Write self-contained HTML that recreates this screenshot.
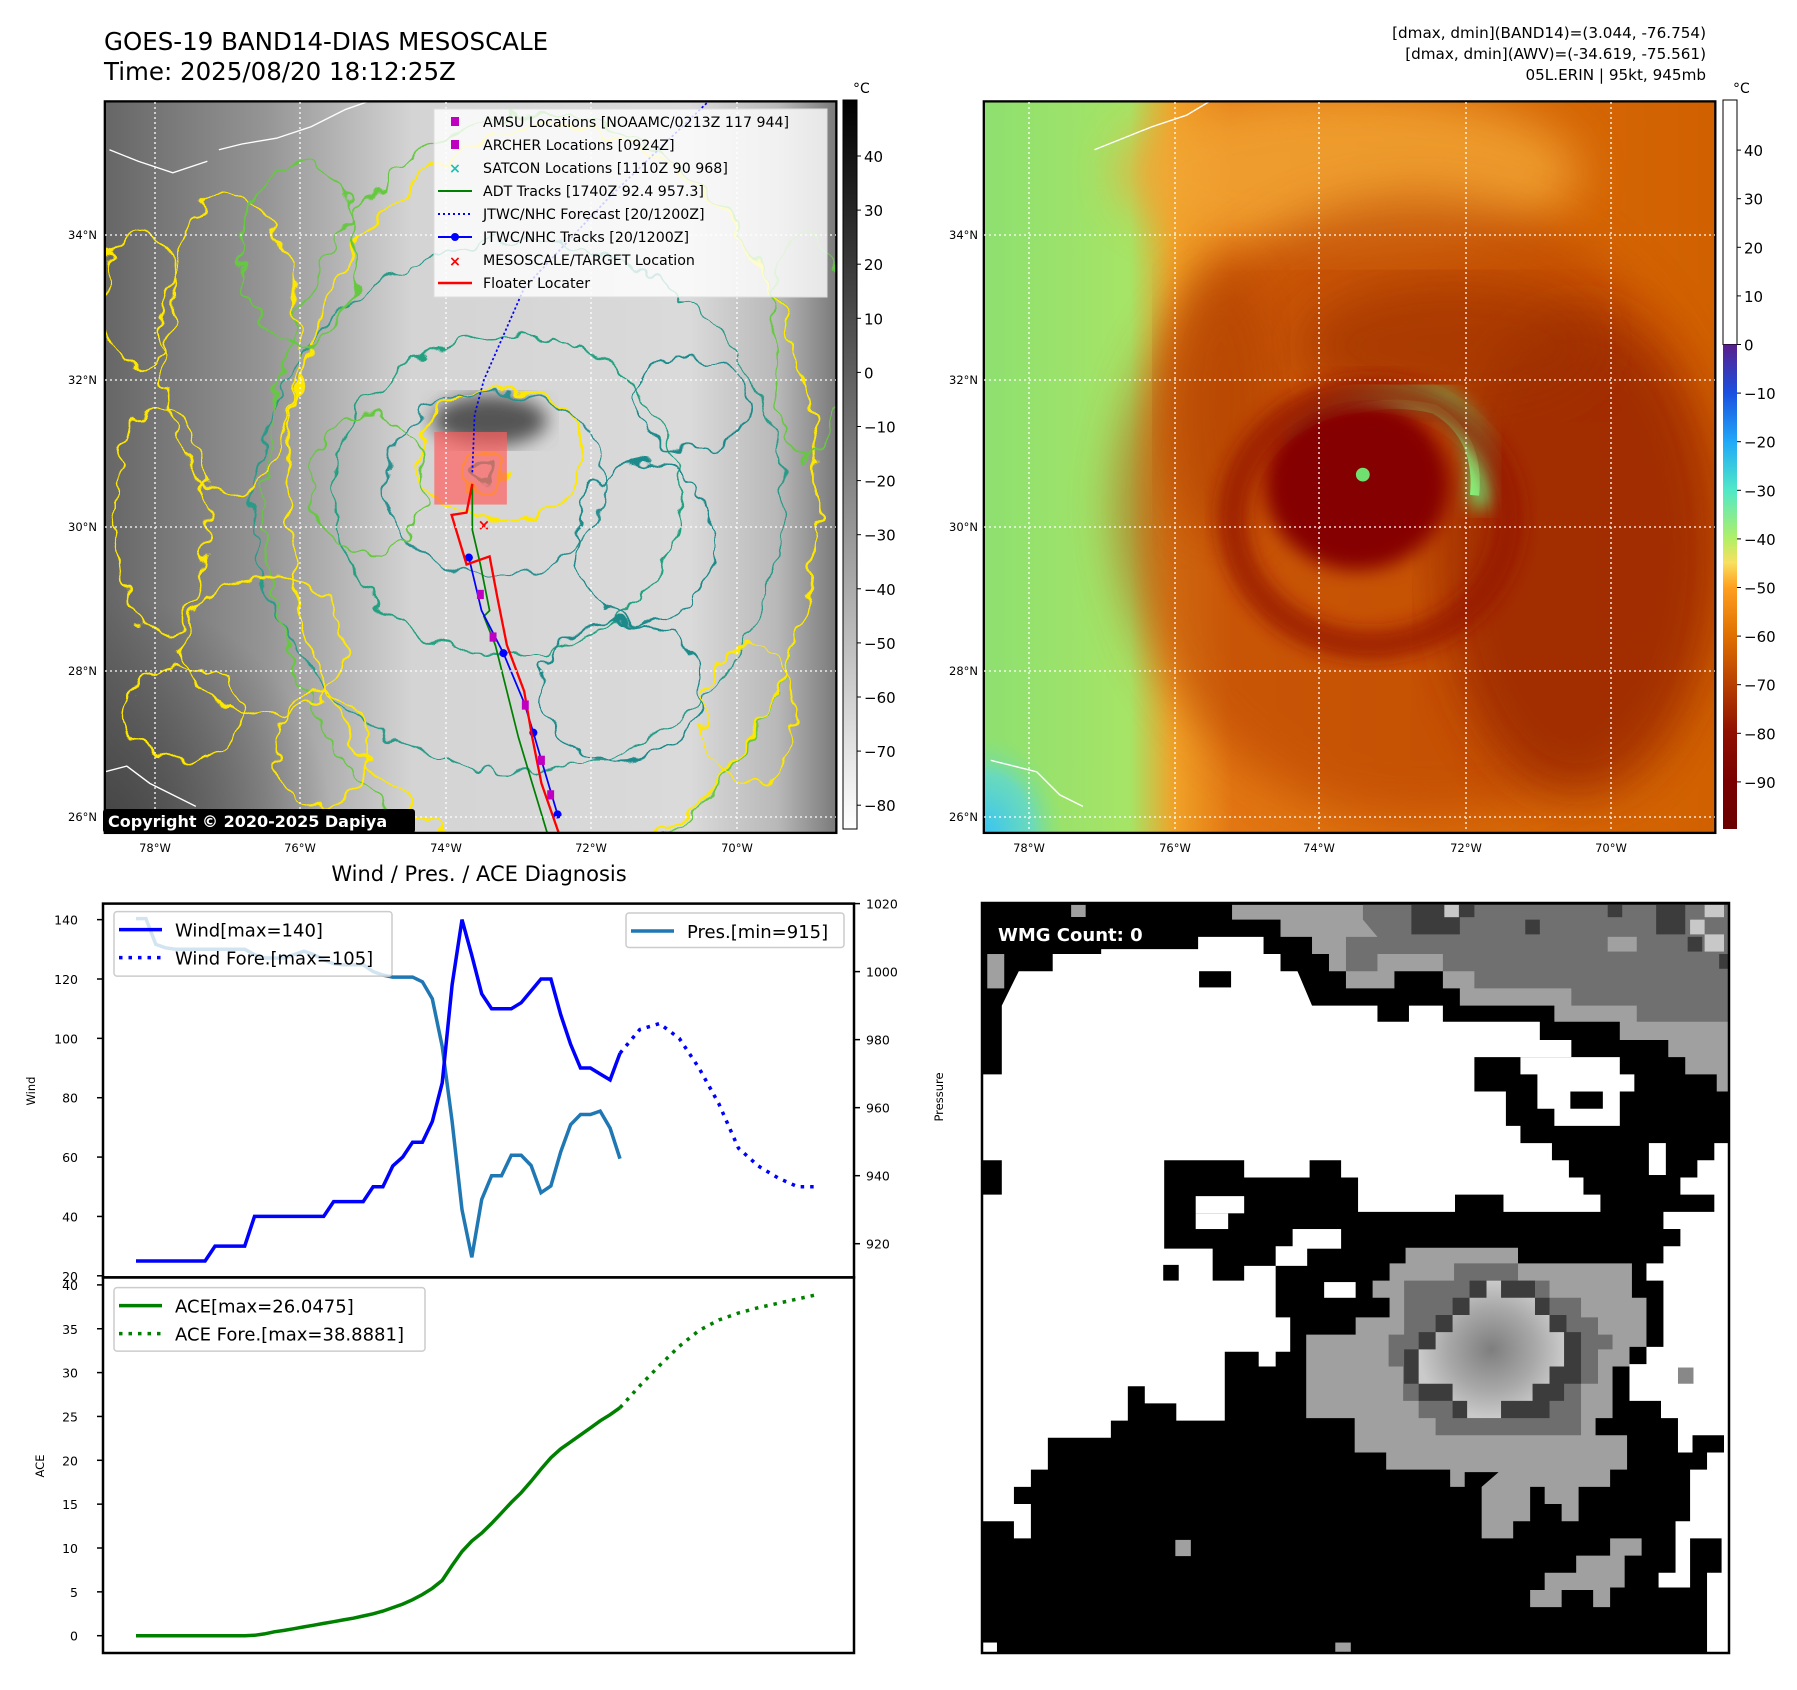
<!DOCTYPE html>
<html><head><meta charset="utf-8"><style>
html,body{margin:0;padding:0;background:#fff}
svg{display:block;font-family:"DejaVu Sans","Liberation Sans",sans-serif}
</style></head><body>
<svg id="fig" xmlns="http://www.w3.org/2000/svg" width="1797" height="1690" viewBox="0 0 1797 1690">
<defs>
<linearGradient id="gL" x1="0" x2="1" y1="0" y2="0">
<stop offset="0" stop-color="#666"/><stop offset="0.22" stop-color="#959595"/><stop offset="0.42" stop-color="#d4d4d4"/><stop offset="0.8" stop-color="#dadada"/><stop offset="0.92" stop-color="#b8b8b8"/><stop offset="1" stop-color="#7a7a7a"/></linearGradient>
<radialGradient id="gDark" cx="0" cy="1" r="0.6"><stop offset="0" stop-color="#404040" stop-opacity="0.9"/><stop offset="1" stop-color="#404040" stop-opacity="0"/></radialGradient>
<linearGradient id="gR" x1="0" x2="1" y1="0" y2="0">
<stop offset="0" stop-color="#8ee070"/><stop offset="0.2" stop-color="#a6e466"/><stop offset="0.26" stop-color="#f0a228"/><stop offset="0.34" stop-color="#e27612"/><stop offset="1" stop-color="#d06000"/></linearGradient>
<radialGradient id="gCy" cx="0" cy="1" r="0.35"><stop offset="0" stop-color="#38c4f4"/><stop offset="0.6" stop-color="#60d8d0" stop-opacity="0.8"/><stop offset="1" stop-color="#80e080" stop-opacity="0"/></radialGradient>
<linearGradient id="cbL" gradientUnits="userSpaceOnUse" x1="0" y1="100" x2="0" y2="829"><stop offset="0" stop-color="#000"/><stop offset="1" stop-color="#fff"/></linearGradient>
<linearGradient id="cbR" gradientUnits="userSpaceOnUse" x1="0" y1="344.5" x2="0" y2="829">
<stop offset="0" stop-color="#5a1e8c"/><stop offset="0.1" stop-color="#1a50e0"/><stop offset="0.2" stop-color="#20a8f8"/><stop offset="0.3" stop-color="#50e8c8"/><stop offset="0.4" stop-color="#b0f068"/><stop offset="0.45" stop-color="#f8e060"/><stop offset="0.5" stop-color="#ffa020"/><stop offset="0.6" stop-color="#e07000"/><stop offset="0.7" stop-color="#b84000"/><stop offset="0.8" stop-color="#901000"/><stop offset="0.9" stop-color="#7a0000"/><stop offset="1" stop-color="#6a0000"/></linearGradient>
<radialGradient id="gEye" cx="0.5" cy="0.5" r="0.5"><stop offset="0" stop-color="#7e7e7e"/><stop offset="0.6" stop-color="#a8a8a8"/><stop offset="1" stop-color="#cacaca"/></radialGradient>
<filter id="wig" x="-10%" y="-10%" width="120%" height="120%"><feTurbulence type="fractalNoise" baseFrequency="0.05" numOctaves="2" seed="3"/><feDisplacementMap in="SourceGraphic" scale="22" xChannelSelector="R" yChannelSelector="G"/></filter>
<filter id="blur8"><feGaussianBlur stdDeviation="8"/></filter>
<filter id="blur20"><feGaussianBlur stdDeviation="20"/></filter>
<clipPath id="clipL"><rect x="91" y="88" width="635" height="635"/></clipPath>
<clipPath id="clipR"><rect x="854" y="88" width="635" height="635"/></clipPath>
</defs>

<!-- titles -->
<text x="104" y="50" font-size="24.5">GOES-19 BAND14-DIAS MESOSCALE</text>
<text x="104" y="80" font-size="24.5">Time: 2025/08/20 18:12:25Z</text>
<g font-size="15.2" text-anchor="end">
<text x="1706" y="38">[dmax, dmin](BAND14)=(3.044, -76.754)</text>
<text x="1706" y="59">[dmax, dmin](AWV)=(-34.619, -75.561)</text>
<text x="1706" y="80">05L.ERIN | 95kt, 945mb</text>
</g>

<!-- map imagery in display coordinates -->
<g transform="scale(1.152)">
<g clip-path="url(#clipL)">
<rect x="91" y="88" width="635" height="635" fill="url(#gL)"/>
<rect x="91" y="380" width="330" height="343" fill="url(#gDark)"/>
<ellipse cx="425" cy="365" rx="50" ry="22" fill="#555" filter="url(#blur8)"/>
<g filter="url(#wig)" fill="none" stroke-width="1.6">
<ellipse cx="435" cy="395" rx="72" ry="58" stroke="#ffe800" stroke-width="2.2"/>
<ellipse cx="430" cy="420" rx="95" ry="80" stroke="#2a8f8f"/>
<ellipse cx="440" cy="430" rx="150" ry="140" stroke="#22a080"/>
<ellipse cx="450" cy="440" rx="230" ry="230" stroke="#2a9a88"/>
<ellipse cx="470" cy="430" rx="240" ry="330" stroke="#66c840"/>
<ellipse cx="480" cy="430" rx="230" ry="320" stroke="#ffe800" stroke-width="2"/>
<ellipse cx="420" cy="410" rx="18" ry="15" stroke="#ffe800" stroke-width="3"/>
<ellipse cx="420" cy="410" rx="9" ry="8" stroke="#22a080" stroke-width="3"/>
<ellipse cx="200" cy="300" rx="60" ry="130" stroke="#ffe800"/>
<ellipse cx="140" cy="450" rx="40" ry="100" stroke="#ffe800"/>
<ellipse cx="230" cy="560" rx="70" ry="60" stroke="#ffe800"/>
<ellipse cx="160" cy="620" rx="50" ry="40" stroke="#ffe800"/>
<ellipse cx="280" cy="650" rx="40" ry="50" stroke="#ffe800"/>
<ellipse cx="260" cy="220" rx="50" ry="80" stroke="#66c840"/>
<ellipse cx="120" cy="260" rx="30" ry="60" stroke="#ffe800"/>
<ellipse cx="320" cy="420" rx="50" ry="60" stroke="#66c840"/>
<ellipse cx="560" cy="470" rx="60" ry="70" stroke="#1f8a8a"/>
<ellipse cx="600" cy="350" rx="50" ry="40" stroke="#1f8a8a"/>
<ellipse cx="540" cy="600" rx="70" ry="60" stroke="#1f8a8a"/>
<ellipse cx="650" cy="620" rx="40" ry="60" stroke="#ffe800"/>
<ellipse cx="700" cy="300" rx="30" ry="100" stroke="#66c840"/>
</g>
<g stroke="#fff" fill="none" stroke-width="1.2">
<polyline points="190,130 210,125 240,120 270,110 300,95 320,88"/>
<polyline points="95,130 120,140 150,150 180,140"/>
<polyline points="91,670 110,665 130,680 150,690 170,700"/>
</g>
<rect x="377" y="375" width="63" height="63" fill="#ff6060" fill-opacity="0.7"/>
<polyline points="410,410 412,360 420,330 455,250 530,170 615,88" fill="none" stroke="#0000ff" stroke-width="1.5" stroke-dasharray="2 2"/>
<polyline points="410,420 410,460 417,490 425,530 420,535 430,560 440,600 450,640 462,680 475,723" fill="none" stroke="#008000" stroke-width="1.5"/>
<polyline points="407,484 418,530 437,567 455,610 463,636 470,660 484,707" fill="none" stroke="#0000ff" stroke-width="1.5"/>
<g fill="#0000ff"><circle cx="407" cy="484" r="3.5"/><circle cx="437" cy="567" r="3.5"/><circle cx="463" cy="636" r="3.5"/><circle cx="484" cy="707" r="3.5"/></g>
<polyline points="410,420 405,445 392,447 405,490 425,483 432,520 440,560 455,600 462,640 470,680 485,723" fill="none" stroke="#ff0000" stroke-width="2"/>
<g fill="#c000c0"><rect x="414" y="512" width="6" height="8"/><rect x="425" y="549" width="6" height="8"/><rect x="453" y="608" width="6" height="8"/><rect x="467" y="656" width="6" height="8"/><rect x="475" y="686" width="6" height="8"/></g>
<text x="420" y="460" font-size="13" fill="#f00" text-anchor="middle" font-weight="bold">×</text>
</g>
<rect x="91" y="88" width="635" height="635" fill="none" stroke="#000" stroke-width="2"/>

<g clip-path="url(#clipR)">
<rect x="854" y="88" width="635" height="635" fill="url(#gR)"/>
<ellipse cx="1170" cy="150" rx="200" ry="70" fill="#f2a636" filter="url(#blur20)" opacity="0.8"/>
<ellipse cx="1230" cy="440" rx="260" ry="270" fill="#b84000" filter="url(#blur20)" opacity="0.6"/>
<ellipse cx="1370" cy="480" rx="120" ry="210" fill="#9a2800" filter="url(#blur20)" opacity="0.8"/>
<ellipse cx="1260" cy="300" rx="130" ry="55" fill="#a03000" filter="url(#blur20)" opacity="0.7"/>
<ellipse cx="1060" cy="350" rx="50" ry="120" fill="#b04000" filter="url(#blur20)" opacity="0.6"/>
<path d="M1125,385 Q1180,330 1250,348 Q1295,375 1285,440" fill="none" stroke="#70e070" stroke-width="20" filter="url(#blur8)"/>
<path d="M1130,380 Q1180,340 1245,355 Q1285,378 1280,430" fill="none" stroke="#88ee78" stroke-width="8"/>
<ellipse cx="1178" cy="420" rx="80" ry="75" fill="#850600" filter="url(#blur8)"/>
<ellipse cx="1190" cy="450" rx="120" ry="110" fill="none" stroke="#961400" stroke-width="25" filter="url(#blur8)" opacity="0.8"/>
<circle cx="1183" cy="412" r="6" fill="#70e070"/>
<rect x="854" y="480" width="200" height="243" fill="url(#gCy)"/>
<g stroke="#fff" fill="none" stroke-width="1.2">
<polyline points="950,130 975,120 1000,110 1030,100 1050,88"/>
<polyline points="860,660 880,665 900,670 920,690 940,700"/>
</g>
</g>
<rect x="854" y="88" width="635" height="635" fill="none" stroke="#000" stroke-width="2"/>
</g>

<!-- gridlines -->
<g stroke="#fff" stroke-width="1.3" stroke-dasharray="2 3">
<line x1="105" x2="836" y1="235" y2="235"/><line x1="105" x2="836" y1="380" y2="380"/><line x1="105" x2="836" y1="527" y2="527"/><line x1="105" x2="836" y1="671" y2="671"/><line x1="105" x2="836" y1="817" y2="817"/>
<line y1="102" y2="832" x1="155" x2="155"/><line y1="102" y2="832" x1="300" x2="300"/><line y1="102" y2="832" x1="446" x2="446"/><line y1="102" y2="832" x1="591" x2="591"/><line y1="102" y2="832" x1="737" x2="737"/>
<line x1="984" x2="1715" y1="235" y2="235"/><line x1="984" x2="1715" y1="380" y2="380"/><line x1="984" x2="1715" y1="527" y2="527"/><line x1="984" x2="1715" y1="671" y2="671"/><line x1="984" x2="1715" y1="817" y2="817"/>
<line y1="102" y2="832" x1="1029" x2="1029"/><line y1="102" y2="832" x1="1175" x2="1175"/><line y1="102" y2="832" x1="1319" x2="1319"/><line y1="102" y2="832" x1="1466" x2="1466"/><line y1="102" y2="832" x1="1611" x2="1611"/>
</g>

<!-- legend on left map -->
<g>
<rect x="434" y="109" width="393" height="188" fill="#fff" fill-opacity="0.8" stroke="#ddd"/>
<g font-size="14.2">
<rect x="451" y="117" width="8" height="9" fill="#c000c0"/><text x="483" y="127">AMSU Locations [NOAAMC/0213Z 117 944]</text>
<rect x="451" y="140" width="8" height="9" fill="#c000c0"/><text x="483" y="150">ARCHER Locations [0924Z]</text>
<text x="455" y="173" fill="#20c0b0" text-anchor="middle" font-weight="bold">×</text><text x="483" y="173">SATCON Locations [1110Z 90 968]</text>
<line x1="438" x2="472" y1="191" y2="191" stroke="#008000" stroke-width="2"/><text x="483" y="196">ADT Tracks [1740Z 92.4 957.3]</text>
<line x1="438" x2="472" y1="214" y2="214" stroke="#0000ff" stroke-width="2" stroke-dasharray="2 3"/><text x="483" y="219">JTWC/NHC Forecast [20/1200Z]</text>
<line x1="438" x2="472" y1="237" y2="237" stroke="#0000ff" stroke-width="2"/><circle cx="455" cy="237" r="4" fill="#00f"/><text x="483" y="242">JTWC/NHC Tracks [20/1200Z]</text>
<text x="455" y="266" fill="#f00" text-anchor="middle" font-weight="bold">×</text><text x="483" y="265">MESOSCALE/TARGET Location</text>
<line x1="438" x2="472" y1="283" y2="283" stroke="#f00" stroke-width="2.5"/><text x="483" y="288">Floater Locater</text>
</g></g>
<g><rect x="103" y="809" width="312" height="24" fill="#000" rx="3"/><text x="108" y="827" fill="#fff" font-size="16" font-weight="bold">Copyright © 2020-2025 Dapiya</text></g>

<!-- map axis labels -->
<g font-size="11.5" text-anchor="end">
<text x="97" y="239">34°N</text><text x="97" y="384">32°N</text><text x="97" y="531">30°N</text><text x="97" y="675">28°N</text><text x="97" y="821">26°N</text>
<text x="978" y="239">34°N</text><text x="978" y="384">32°N</text><text x="978" y="531">30°N</text><text x="978" y="675">28°N</text><text x="978" y="821">26°N</text>
</g>
<g font-size="11.5" text-anchor="middle">
<text x="155" y="852">78°W</text><text x="300" y="852">76°W</text><text x="446" y="852">74°W</text><text x="591" y="852">72°W</text><text x="737" y="852">70°W</text>
<text x="1029" y="852">78°W</text><text x="1175" y="852">76°W</text><text x="1319" y="852">74°W</text><text x="1466" y="852">72°W</text><text x="1611" y="852">70°W</text>
</g>

<!-- colorbars -->
<g>
<rect x="843" y="100" width="14" height="729" fill="url(#cbL)" stroke="#000" stroke-width="1"/>
<text x="853" y="93" font-size="14">°C</text>
<g font-size="15" id="cbLticks"></g>
</g>
<g>
<rect x="1723" y="100" width="14" height="244.5" fill="#fff" stroke="#000" stroke-width="1"/>
<rect x="1723" y="344.5" width="14" height="484.5" fill="url(#cbR)"/>
<text x="1733" y="93" font-size="14">°C</text>
<g font-size="15" id="cbRticks"></g>
</g>

<!-- chart -->
<text x="479" y="881" font-size="21" text-anchor="middle">Wind / Pres. / ACE Diagnosis</text>
<g id="chart"></g>

<!-- WMG map -->
<g>
<g transform="translate(980,900) scale(0.4847,0.4911)">
<rect x="3" y="5" width="1542" height="1528" fill="#000"/>
<polygon fill="#fff" points="45,215 80,145 150,145 150,110 250,110 250,100 450,100 450,75 585,75 585,110 620,110 620,145 655,145 685,215 820,215 820,248 885,248 885,215 955,215 955,248 1155,248 1155,285 1220,285 1220,320 1020,320 1020,390 1085,390 1085,460 1115,460 1115,495 1180,495 1180,530 1215,530 1215,565 1245,565 1245,600 1280,600 1280,635 1080,635 1080,600 980,600 980,635 780,635 780,565 745,565 745,530 680,530 680,565 545,565 545,530 380,530 380,710 480,710 480,775 545,775 545,745 610,745 610,850 640,850 640,920 610,920 610,950 575,950 575,920 505,920 505,1060 405,1060 405,1025 340,1025 340,990 305,990 305,1060 270,1060 270,1095 140,1095 140,1160 105,1160 105,1195 70,1195 70,1230 105,1230 105,1300 70,1300 70,1265 5,1265 5,600 45,600 45,530 5,530 5,355 45,355 45,285"/>
<polygon fill="#fff" points="1115,320 1320,320 1320,355 1350,355 1350,390 1320,390 1320,460 1185,460 1185,425 1150,425 1150,355 1115,355"/>
<rect x="1218" y="390" width="67" height="35" fill="#000"/>
<rect x="452" y="145" width="66" height="33" fill="#000"/>
<rect x="445" y="603" width="100" height="35" fill="#fff"/><rect x="445" y="638" width="67" height="32" fill="#fff"/>
<rect x="645" y="670" width="100" height="40" fill="#fff"/><rect x="610" y="705" width="65" height="40" fill="#fff"/>
<rect x="710" y="778" width="65" height="32" fill="#fff"/><rect x="378" y="743" width="32" height="32" fill="#000"/>
<polygon fill="#fff" points="1545,495 1515,495 1515,530 1480,530 1480,565 1445,565 1445,600 1515,600 1515,635 1410,635 1410,670 1445,670 1445,705 1410,705 1410,740 1375,740 1375,775 1410,775 1410,910 1375,910 1375,945 1340,945 1340,1020 1405,1020 1405,1055 1440,1055 1440,1125 1470,1125 1470,1090 1535,1090 1535,1125 1500,1125 1500,1160 1465,1160 1465,1265 1435,1265 1435,1370 1400,1370 1400,1400 1465,1400 1465,1300 1530,1300 1530,1370 1500,1370 1500,1533 1545,1533"/>
<rect x="1380" y="495" width="35" height="65" fill="#fff"/>
<polygon fill="#a0a0a0" points="520,10 1545,10 1545,390 1520,390 1520,355 1455,355 1455,320 1420,320 1420,285 1320,285 1320,248 1185,248 1185,215 990,215 990,180 955,180 955,145 855,145 855,180 755,180 755,145 720,145 720,110 685,110 685,75 620,75 620,40 520,40"/>
<polygon fill="#707070" points="790,10 1545,10 1545,248 1355,248 1355,215 1220,215 1220,180 1020,180 1020,145 955,145 955,110 820,110 820,145 755,145 755,75 820,75 790,40"/>
<g fill="#3c3c3c"><rect x="890" y="10" width="100" height="60"/><rect x="990" y="10" width="30" height="25"/><rect x="1125" y="40" width="30" height="30"/><rect x="1295" y="10" width="30" height="25"/><rect x="1395" y="10" width="60" height="60"/><rect x="1460" y="75" width="30" height="30"/><rect x="1525" y="110" width="20" height="30"/></g>
<g fill="#c8c8c8"><rect x="958" y="10" width="30" height="25"/><rect x="1495" y="10" width="40" height="25"/><rect x="1495" y="70" width="40" height="35"/><rect x="1465" y="40" width="30" height="30"/></g>
<rect x="1295" y="75" width="60" height="30" fill="#a0a0a0"/>
<rect x="15" y="110" width="35" height="70" fill="#a0a0a0"/><rect x="188" y="10" width="30" height="25" fill="#a0a0a0"/>
<polygon fill="#a0a0a0" points="878,708 1110,708 1110,740 1345,740 1345,810 1375,810 1375,910 1340,910 1340,950 1305,950 1305,1055 1270,1055 1270,1090 1335,1090 1335,1160 1300,1160 1300,1195 1235,1195 1235,1265 1200,1265 1200,1230 1165,1230 1165,1195 1135,1195 1135,1265 1100,1265 1100,1300 1035,1300 1035,1195 1070,1165 1000,1165 1000,1195 970,1195 970,1160 838,1160 838,1125 773,1125 773,1055 673,1055 673,885 775,885 775,850 845,850 845,810 810,810 810,775 845,775 845,740 878,740"/>
<polygon fill="#6e6e6e" points="978,740 1110,740 1110,775 1175,775 1175,810 1240,810 1240,850 1275,850 1275,885 1305,885 1305,915 1275,915 1275,985 1240,985 1240,1090 940,1090 940,1055 905,1055 905,1020 873,1020 873,950 843,950 843,885 875,885 875,775 978,775"/>
<polygon fill="#3c3c3c" points="1010,775 1145,775 1145,810 1175,810 1175,845 1210,845 1210,880 1240,880 1240,985 1205,985 1205,1020 1175,1020 1175,1055 975,1055 975,1020 905,1020 905,985 875,985 875,915 905,915 905,880 940,880 940,845 975,845 975,810 1010,810"/>
<polygon fill="url(#gEye)" points="1045,775 1075,775 1075,810 1145,810 1145,845 1175,845 1175,880 1205,880 1205,950 1175,950 1175,985 1140,985 1140,1020 1075,1020 1075,1055 1005,1055 1005,1020 975,1020 975,985 905,985 905,915 940,915 940,880 975,880 975,845 1010,845 1010,810 1045,810"/>
<polygon fill="#a0a0a0" points="1300,1300 1365,1300 1365,1335 1330,1335 1330,1400 1300,1400 1300,1440 1265,1440 1265,1405 1200,1405 1200,1440 1135,1440 1135,1405 1165,1405 1165,1370 1230,1370 1230,1335 1300,1335"/>
<rect x="403" y="1303" width="32" height="33" fill="#a0a0a0"/><rect x="733" y="1512" width="32" height="20" fill="#a0a0a0"/><rect x="1440" y="952" width="32" height="33" fill="#888"/><rect x="5" y="1512" width="30" height="20" fill="#fff"/>
</g>
<rect x="982" y="903" width="747" height="750" fill="none" stroke="#000" stroke-width="2.5"/>
<rect x="991" y="917" width="181" height="32" rx="5" fill="#000"/>
<text x="998" y="941" fill="#fff" font-size="18" font-weight="bold">WMG Count: 0</text>
</g>
</svg>
<script>
// ---- chart data ----
const obsIdx = [0,1,2,3,4,5,6,7,8,9,10,11,12,13,14,15,16,17,18,19,20,21,22,23,24,25,26,27,28,29,30,31,32,33,34,35,36,37,38,39,40,41,42,43,44,45,46,47,48,49];
const windObs = [25,25,25,25,25,25,25,25,30,30,30,30,40,40,40,40,40,40,40,40,45,45,45,45,50,50,57,60,65,65,72,85,118,140,128,115,110,110,110,112,116,120,120,108,98,90,90,88,86,95];
const presObs = [1015.6,1015.6,1008,1007,1006.6,1006.6,1006.6,1006.6,1006.6,1006.6,1006.6,1006.6,1005,1004,1004,1004,1005,1006,1005,1003.5,1002.3,1002,1002,1002,1000,999,998.4,998.4,998.4,997,992,978,956,930,916,933,940,940,946,946,943,935,937,947,955,958,958,959,954,945];
const aceObs = [0,0,0,0,0,0,0,0,0,0,0,0,0.05,0.2,0.45,0.6,0.8,1.0,1.2,1.4,1.6,1.8,2.0,2.25,2.5,2.8,3.2,3.6,4.1,4.7,5.4,6.3,8.0,9.6,10.8,11.7,12.8,14.0,15.2,16.3,17.6,19.0,20.3,21.3,22.1,22.9,23.7,24.5,25.2,26.0];
const fcIdx = [49,51,53,55,57,59,61,63,65,67,69];
const windFc = [95,103,105,100,90,78,63,57,53,50,50];
const aceFc = [26.0,28.5,30.8,33.0,34.8,36.0,36.8,37.4,37.9,38.4,38.9];
const windTicks = [20,40,60,80,100,120,140];
const presTicks = [920,940,960,980,1000,1020];
const aceTicks = [0,5,10,15,20,25,30,35,40];
const cbLeftTicks = [40,30,20,10,0,-10,-20,-30,-40,-50,-60,-70,-80];
const cbRightTicks = [40,30,20,10,0,-10,-20,-30,-40,-50,-60,-70,-80,-90];

const NS = "http://www.w3.org/2000/svg";
const L = 103, R = 854, T = 903.6, MID = 1277.4, B = 1653;
const xOf = i => 136 + i * (620 - 136) / 49;
const yW = w => 1275.8 - (w - 20) * 2.968;
const yP = p => 903.6 + (1020 - p) * 3.401;
const yA = a => 1635.7 - a * 8.77;
const cbLy = v => 156 + (40 - v) * 5.41;
const cbRy = v => 344.5 - v * 4.86;

function mk(tag, attrs, parent) {
  const e = document.createElementNS(NS, tag);
  for (const k in attrs) e.setAttribute(k, attrs[k]);
  parent.appendChild(e);
  return e;
}
const chart = document.getElementById("chart");
function line(xs, ys, attrs, name) {
  const pts = xs.map((x, k) => x.toFixed(1) + "," + ys[k].toFixed(1)).join(" ");
  const e = mk("polyline", Object.assign({points: pts, fill: "none"}, attrs), chart);
  
  
  return e;
}
const f1 = mk("rect", {x: L, y: T, width: R - L, height: MID - T, fill: "none", stroke: "#000", "stroke-width": 2.5}, chart);


const f2 = mk("rect", {x: L, y: MID, width: R - L, height: B - MID, fill: "none", stroke: "#000", "stroke-width": 2.5}, chart);



windTicks.forEach(v => {
  const y = yW(v);
  mk("line", {x1: L - 6, x2: L, y1: y, y2: y, stroke: "#000", "stroke-width": 1.5}, chart);
  const t = mk("text", {x: 78, y: y + 5, "font-size": 12.5, "text-anchor": "end"}, chart);
  t.textContent = v;
  
  
});
presTicks.forEach(v => {
  const y = yP(v);
  mk("line", {x1: R, x2: R + 6, y1: y, y2: y, stroke: "#000", "stroke-width": 1.5}, chart);
  const t = mk("text", {x: 866, y: y + 5, "font-size": 12.5}, chart);
  t.textContent = v;
  
  
});
aceTicks.forEach(v => {
  const y = yA(v);
  mk("line", {x1: L - 6, x2: L, y1: y, y2: y, stroke: "#000", "stroke-width": 1.5}, chart);
  const t = mk("text", {x: 78, y: y + 5, "font-size": 12.5, "text-anchor": "end"}, chart);
  t.textContent = v;
  
  
});
let at = mk("text", {x: 0, y: 0, "font-size": 11.5, "text-anchor": "middle", transform: "translate(35,1091) rotate(-90)"}, chart);
at.textContent = "Wind";


at = mk("text", {x: 0, y: 0, "font-size": 11.5, "text-anchor": "middle", transform: "translate(44,1466) rotate(-90)"}, chart);
at.textContent = "ACE";


at = mk("text", {x: 0, y: 0, "font-size": 11.5, "text-anchor": "middle", transform: "translate(943,1097) rotate(-90)"}, chart);
at.textContent = "Pressure";



line(obsIdx.map(xOf), presObs.map(yP), {stroke: "#1f77b4", "stroke-width": 3.5}, "pressure-line");
line(obsIdx.map(xOf), windObs.map(yW), {stroke: "#0000ff", "stroke-width": 3.5}, "wind-line");
line(fcIdx.map(xOf), windFc.map(yW), {stroke: "#0000ff", "stroke-width": 3.5, "stroke-dasharray": "3.5 6"}, "wind-forecast-line");
line(obsIdx.map(xOf), aceObs.map(yA), {stroke: "#008000", "stroke-width": 3.5}, "ace-line");
line(fcIdx.map(xOf), aceFc.map(yA), {stroke: "#008000", "stroke-width": 3.5, "stroke-dasharray": "3.5 6"}, "ace-forecast-line");

function legend(x, y, w, h, entries, name) {
  const g = mk("g", {}, chart);
  
  
  mk("rect", {x: x, y: y, width: w, height: h, rx: 3, fill: "#fff", "fill-opacity": 0.8, stroke: "#ccc", "stroke-width": 1.5}, g);
  entries.forEach((en, k) => {
    const cy = y + 18 + k * 28;
    const a = {x1: x + 5, x2: x + 48, y1: cy, y2: cy, stroke: en[1], "stroke-width": 3.5};
    if (en[2]) a["stroke-dasharray"] = "3.5 6";
    mk("line", a, g);
    const t = mk("text", {x: x + 61, y: cy + 7, "font-size": 18}, g);
    t.textContent = en[0];
  });
}
legend(114, 911.6, 278, 64.5, [["Wind[max=140]", "#0000ff", false], ["Wind Fore.[max=105]", "#0000ff", true]], "wind-legend");
legend(626, 913, 218, 34.5, [["Pres.[min=915]", "#1f77b4", false]], "pressure-legend");
legend(114, 1287.6, 311, 63.5, [["ACE[max=26.0475]", "#008000", false], ["ACE Fore.[max=38.8881]", "#008000", true]], "ace-legend");

const cbl = document.getElementById("cbLticks");
cbLeftTicks.forEach(v => {
  const y = cbLy(v);
  mk("line", {x1: 857, x2: 861, y1: y, y2: y, stroke: "#000"}, cbl);
  const t = mk("text", {x: 864, y: y + 6}, cbl);
  t.textContent = v < 0 ? "\u2212" + (-v) : v;
  
  
});
const cbr = document.getElementById("cbRticks");
cbRightTicks.forEach(v => {
  const y = cbRy(v);
  mk("line", {x1: 1737, x2: 1741, y1: y, y2: y, stroke: "#000"}, cbr);
  const t = mk("text", {x: 1744, y: y + 6}, cbr);
  t.textContent = v < 0 ? "\u2212" + (-v) : v;
  
  
});
</script>
</body></html>
